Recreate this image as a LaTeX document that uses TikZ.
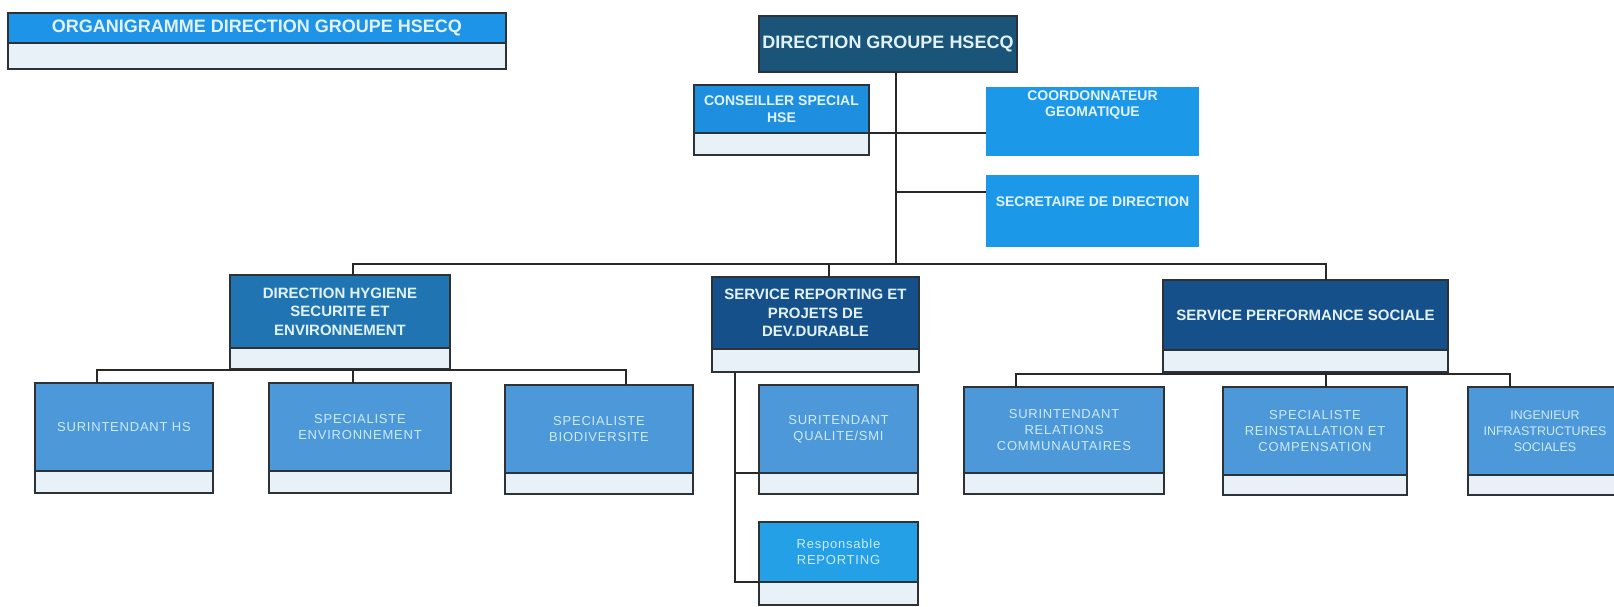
\documentclass[tikz,border=0pt]{standalone}
\usepackage{fontspec}
\setmainfont{Liberation Sans}
\newfontfamily\lowfont[LetterSpace=6]{Liberation Sans}
\usetikzlibrary{fit}
\definecolor{titlec}{RGB}{30,148,232}
\definecolor{dghc}{RGB}{26,84,120}
\definecolor{consc}{RGB}{30,142,222}
\definecolor{brightc}{RGB}{28,152,232}
\definecolor{dhsec}{RGB}{32,116,178}
\definecolor{srpc}{RGB}{22,80,138}
\definecolor{lowc}{RGB}{76,152,216}
\definecolor{respc}{RGB}{36,160,230}
\definecolor{bandc}{RGB}{232,240,248}
\definecolor{bordc}{RGB}{45,50,55}
\definecolor{linec}{RGB}{40,40,40}
\definecolor{htxt}{RGB}{226,242,253}
\definecolor{ltxt}{RGB}{205,234,252}
\tikzset{
  hdr/.style={align=center, text=htxt, font=\bfseries\fontsize{15}{18.5}\selectfont},
  low/.style={align=center, text=ltxt, font=\lowfont\fontsize{13}{16}\selectfont},
  lowtight/.style={align=center, text=ltxt, font=\fontsize{12.5}{16}\selectfont},
  lowbox/.style={fill=lowc},
  band/.style={fill=bandc, draw=bordc, line width=1.2pt},
  conn/.style={draw=linec, line width=1.8pt},
  frame/.style={draw=bordc, line width=1.4pt},
  plain/.style={inner sep=0pt, outer sep=0pt},
}
% name x1 y1 x2 yh y2 boxstyle textstyle text
\newcommand\orgbox[9]{%
  \node[plain, fit={(#2,#3) (#4,#5)}, #7] (#1) {};
  \node[plain, fit={(#2,#5) (#4,#6)}, band] (#1-b) {};
  \draw[frame] (#2,#3) rectangle (#4,#6);
  \node[#8] (#1-t) at (#1.center) {#9};
}
\begin{document}
\begin{tikzpicture}[x=1pt, y=-1pt]
\fill[white] (0,0) rectangle (1614,606);
\useasboundingbox (0,0) rectangle (1614,606);
\clip (0,0) rectangle (1614,606);

% title
\orgbox{title}{8}{13}{506}{43}{69}{fill=titlec}{hdr, font=\bfseries\fontsize{18}{20}\selectfont}{ORGANIGRAMME DIRECTION GROUPE HSECQ}

% top
\node[plain, fit={(759,16) (1017,72)}, fill=dghc, frame] (dgh) {};
\node[hdr, font=\bfseries\fontsize{18}{20}\selectfont] (dgh-t) at (dgh.center) {DIRECTION GROUPE HSECQ};
\orgbox{cons}{694}{85}{869}{133}{155}{fill=consc}{hdr, font=\bfseries\fontsize{14}{16.5}\selectfont}{CONSEILLER SPECIAL\\HSE}
\node[plain, fit={(986,87) (1199,156)}, fill=brightc] (coord) {};
\node[hdr, font=\bfseries\fontsize{14}{16}\selectfont] (coord-t) at (1092.5,105) {COORDONNATEUR\\GEOMATIQUE};
\node[plain, fit={(986,175) (1199,247)}, fill=brightc] (sec) {};
\node[hdr, font=\bfseries\fontsize{14}{16}\selectfont] (sec-t) at (1092.5,202) {SECRETAIRE DE DIRECTION};

% second level
\orgbox{dhse}{230}{275}{450}{348}{369}{fill=dhsec}{hdr}{DIRECTION HYGIENE\\SECURITE ET\\ENVIRONNEMENT}
\orgbox{srp}{712}{277}{919}{349}{372}{fill=srpc}{hdr}{SERVICE REPORTING ET\\PROJETS DE\\DEV.DURABLE}
\orgbox{sps}{1163}{280}{1448}{350}{372}{fill=srpc}{hdr}{SERVICE PERFORMANCE SOCIALE}

% third level
\orgbox{shs}{35}{383}{213}{471}{493}{lowbox}{low}{SURINTENDANT HS}
\orgbox{senv}{269}{383}{451}{471}{493}{lowbox}{low}{SPECIALISTE\\ENVIRONNEMENT}
\orgbox{sbio}{505}{385}{693}{473}{494}{lowbox}{low}{SPECIALISTE\\BIODIVERSITE}
\orgbox{sq}{759}{385}{918}{473}{494}{lowbox}{low}{SURITENDANT\\QUALITE/SMI}
\orgbox{resp}{759}{522}{918}{582}{605}{fill=respc}{low}{Responsable\\REPORTING}
\orgbox{src}{964}{387}{1164}{473}{494}{lowbox}{low}{SURINTENDANT\\RELATIONS\\COMMUNAUTAIRES}
\orgbox{sri}{1223}{387}{1407}{475}{495}{lowbox}{low}{SPECIALISTE\\REINSTALLATION ET\\COMPENSATION}
\orgbox{ing}{1468}{387}{1622}{475}{495}{lowbox}{lowtight}{INGENIEUR\\INFRASTRUCTURES\\SOCIALES}

% junctions
\coordinate (bus) at (896,264);
\coordinate (secj) at (896,192);
\coordinate (b1) at (353,264);
\coordinate (b2) at (829,264);
\coordinate (b3) at (1326,264);
\coordinate (d1) at (97,370);
\coordinate (d2) at (353,370);
\coordinate (d3) at (626,370);
\coordinate (r0) at (735,372);
\coordinate (s1) at (1016,374);
\coordinate (s2) at (1326,374);
\coordinate (s3) at (1510,374);

% connectors
\draw[conn] (dgh.south -| bus) -- (bus);
\draw[conn] (cons.south east) -- (cons.south east -| coord.west);
\draw[conn] (secj) -- (secj -| sec.west);
\draw[conn] (b1 |- dhse.north) -- (b1) -- (b3) -- (b3 |- sps.north);
\draw[conn] (b2) -- (b2 |- srp.north);
\draw[conn] (d1 |- shs.north) -- (d1) -- (d3) -- (d3 |- sbio.north);
\draw[conn] (d2 |- dhse-b.south) -- (d2 |- senv.north);
\draw[conn] (r0) |- (sq.south west);
\draw[conn] (r0) |- (resp.south west);
\draw[conn] (s1 |- src.north) -- (s1) -- (s3) -- (s3 |- ing.north);
\draw[conn] (s2 |- sps-b.south) -- (s2 |- sri.north);
\end{tikzpicture}
\end{document}
